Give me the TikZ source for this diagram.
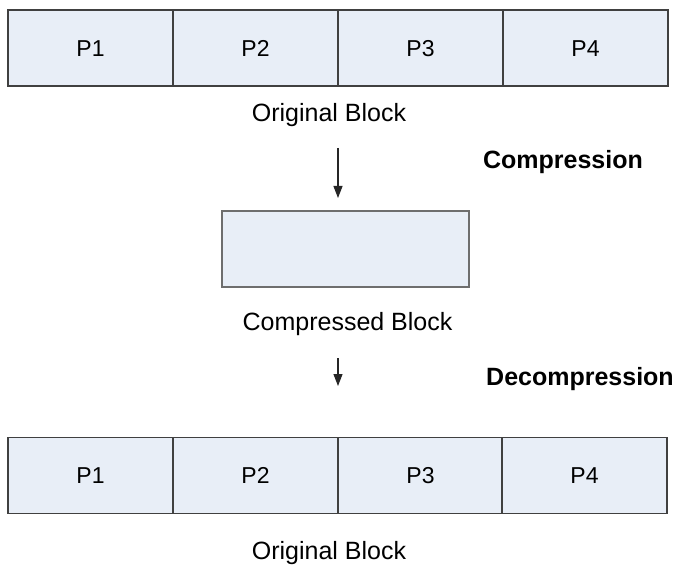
\documentclass[tikz,border=0pt]{standalone}
\usepackage{fontspec}
\setmainfont{Liberation Sans}
\usetikzlibrary{arrows.meta}
\definecolor{cellfill}{HTML}{E8EEF7}
\definecolor{celldraw}{HTML}{404040}
\definecolor{cbdraw}{HTML}{6E6E6E}
\begin{document}
\begin{tikzpicture}[x=1pt,y=-1pt,
  cell/.style={draw=celldraw, fill=cellfill, line width=1.1pt, minimum width=165pt, minimum height=76pt, inner sep=0pt, outer sep=0pt, text height=16.5pt, text depth=0pt, font=\fontsize{23}{27}\selectfont},
  cbox/.style={draw=cbdraw, fill=cellfill, line width=1.1pt, minimum width=247pt, minimum height=76pt, inner sep=0pt},
  lbl/.style={inner sep=0pt, font=\fontsize{25}{30}\selectfont},
  blbl/.style={inner sep=0pt, font=\fontsize{25}{30}\selectfont\bfseries},
  arr/.style={draw=black!85, line width=1.1pt, -{Triangle[length=12pt,width=9pt]}}
]
\useasboundingbox (0,0) rectangle (678,567);
% top row
\node[cell] (t1) at (90.5,48) {P1};
\node[cell] (t2) at (255.5,48) {P2};
\node[cell] (t3) at (420.5,48) {P3};
\node[cell] (t4) at (585.5,48) {P4};
\node[lbl] (tl) at (329,115) {Original Block};
% compression
\coordinate (a1s) at (338,148);
\node[cbox] (cb) at (345.5,249) {};
\draw[arr] (a1s) -- (338,198) coordinate (a1e);
\node[blbl] (comp) at (563,162) {Compression};
\node[lbl] (cl) at (347.5,324) {Compressed Block};
% decompression
\coordinate (a2s) at (338,358);
\coordinate (a2e) at (338,386);
\draw[arr] (a2s) -- (a2e);
\node[blbl] (dec) at (580,379) {Decompression};
% bottom row
\node[cell] (b1) at (90.5,475.5) {P1};
\node[cell] (b2) at (255.5,475.5) {P2};
\node[cell] (b3) at (420.5,475.5) {P3};
\node[cell] (b4) at (584.5,475.5) {P4};
\node[lbl] (bl) at (329,553) {Original Block};
\end{tikzpicture}
\end{document}
